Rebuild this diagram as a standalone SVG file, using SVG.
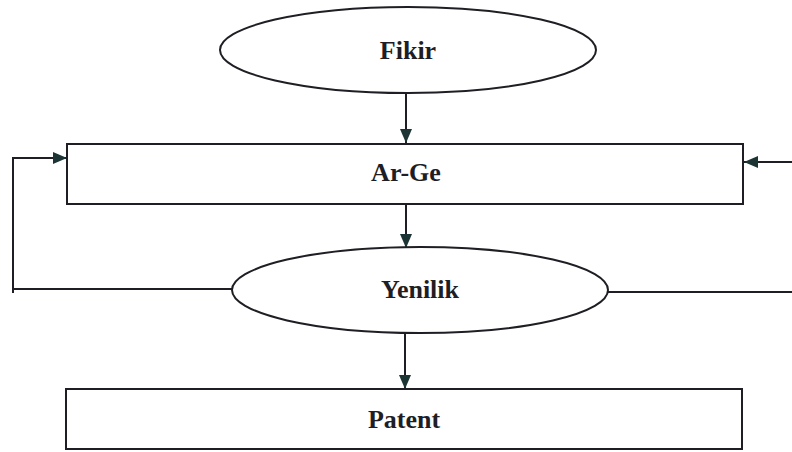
<svg xmlns="http://www.w3.org/2000/svg" width="792" height="452" viewBox="0 0 792 452">
<style>
.shape{fill:#fff;stroke:#1e1e24;stroke-width:2}
.line{fill:none;stroke:#1e1e24;stroke-width:2}
.lbl{font-family:"Liberation Serif",serif;font-weight:bold;font-size:26px;fill:#1e1e24;text-anchor:middle}
</style>
<defs>
<marker id="ah" markerWidth="14" markerHeight="12" refX="14" refY="6" orient="auto" markerUnits="userSpaceOnUse">
<path d="M0,0 L14,6 L0,12 Z" fill="#1c3434"/>
</marker>
</defs>
<rect width="792" height="452" fill="#fff"/>
<g id="connectors">
<line class="line" x1="406" y1="93" x2="406" y2="143" marker-end="url(#ah)"/>
<line class="line" x1="406" y1="204" x2="406" y2="248" marker-end="url(#ah)"/>
<line class="line" x1="405" y1="333" x2="405" y2="389" marker-end="url(#ah)"/>
<polyline class="line" points="232,289 13,289 13,293"/>
<polyline class="line" points="13,293 13,158 67,158" marker-end="url(#ah)"/>
<line class="line" x1="608" y1="292" x2="792" y2="292"/>
<line class="line" x1="792" y1="162" x2="744" y2="162" marker-end="url(#ah)"/>
</g>
<g id="fikir">
<ellipse class="shape" cx="408" cy="50" rx="188" ry="43"/>
<text class="lbl" x="408" y="59">Fikir</text>
</g>
<g id="arge">
<rect class="shape" x="67" y="144" width="676" height="60"/>
<text class="lbl" x="406" y="181">Ar-Ge</text>
</g>
<g id="yenilik">
<ellipse class="shape" cx="420" cy="290" rx="188" ry="43"/>
<text class="lbl" x="420" y="298">Yenilik</text>
</g>
<g id="patent">
<rect class="shape" x="66" y="389" width="676" height="60"/>
<text class="lbl" x="404" y="428">Patent</text>
</g>
</svg>
